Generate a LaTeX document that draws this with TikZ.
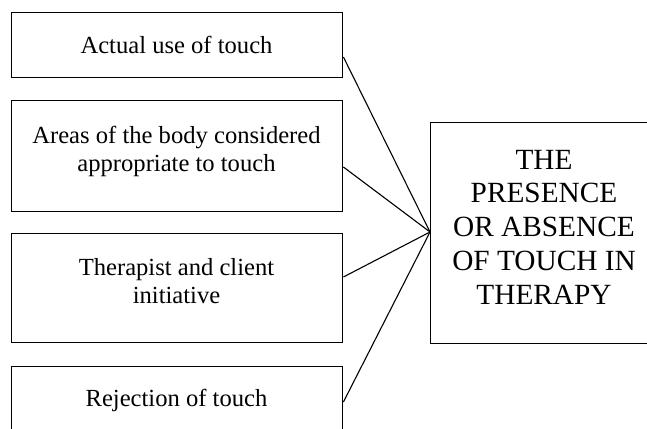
\documentclass[tikz,border=0pt]{standalone}
\usepackage{fontspec}
\setmainfont{Liberation Serif}
\begin{document}
\begin{tikzpicture}[x=1pt,y=-1pt,
  box/.style={draw, line width=1.4pt, inner sep=0pt, anchor=north west},
  lbl/.style={align=center, inner sep=0pt, anchor=base,
    font=\fontsize{24.6}{28}\selectfont},
  biglbl/.style={align=center, inner sep=0pt, anchor=base,
    font=\fontsize{29.3}{33.7}\selectfont},
  link/.style={line width=1.1pt}]
\useasboundingbox (0,0) rectangle (647,428);

% factor boxes on the left
\node (b1) [box, minimum width=331pt, minimum height=65pt]  at (11,12)  {};
\node (b2) [box, minimum width=331pt, minimum height=111pt] at (11,100) {};
\node (b3) [box, minimum width=331pt, minimum height=109pt] at (11,233) {};
\node (b4) [box, minimum width=331pt, minimum height=80pt]  at (11,366) {};

% outcome box on the right
\node (out) [box, minimum width=228pt, minimum height=221pt] at (430,122) {};

% texts (anchored at the baseline of their last line)
\node (t1) [lbl] at (176.5,53)  {Actual use of touch};
\node (t2) [lbl] at (176.5,171) {Areas of the body considered\\appropriate to touch};
\node (t3) [lbl] at (176.5,303) {Therapist and client\\initiative};
\node (t4) [lbl] at (176.5,406) {Rejection of touch};
\node (tout) [biglbl] at (544,304) {THE\\PRESENCE\\OR ABSENCE\\OF TOUCH IN\\THERAPY};

% connector end points
\coordinate (hub) at (out.west |- 0,232);
\coordinate (e1) at (b1.east |- 0,57);
\coordinate (e2) at (b2.east |- 0,167);
\coordinate (e3) at (b3.east |- 0,277);
\coordinate (e4) at (b4.east |- 0,402);

\draw[link] (e1) -- (hub);
\draw[link] (e2) -- (hub);
\draw[link] (e3) -- (hub);
\draw[link] (e4) -- (hub);
\end{tikzpicture}
\end{document}
